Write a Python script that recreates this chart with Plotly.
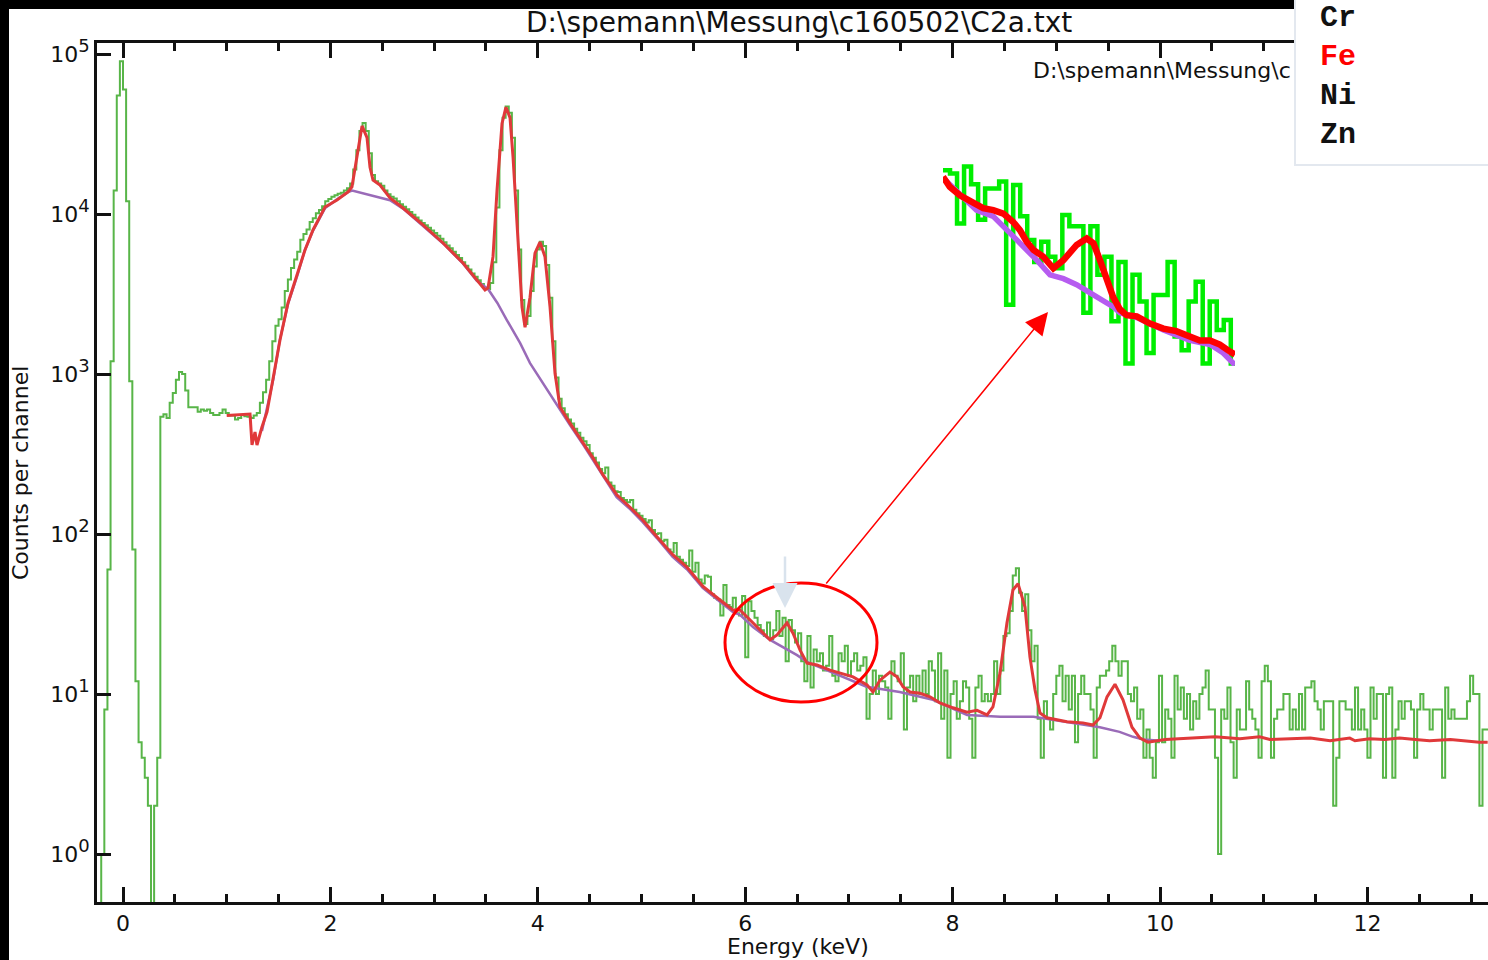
import numpy as np
import plotly.graph_objects as go

# ---------------------------------------------------------------- text
TITLE = "D:\\spemann\\Messung\\c160502\\C2a.txt"
SUBTITLE = "D:\\spemann\\Messung\\c"
X_TITLE = "Energy (keV)"
Y_TITLE = "Counts per channel"
ELEMENTS = ["Cr", "Fe", "Ni", "Zn"]
ELEMENT_COLORS = ["#111111", "#ff0000", "#111111", "#111111"]
Y_TICK_EXPONENTS = [0, 1, 2, 3, 4, 5]
X_TICKS = [0, 2, 4, 6, 8, 10, 12]

# ---------------------------------------------------------------- measured spectrum
CHANNEL_WIDTH = 0.03  # keV per channel

# counts per channel, in blocks that start at the given energy (keV); 0.1 marks an empty channel
counts_noise_peak = [0.1, 1, 8, 60, 1200, 14000, 55000, 90000, 60000, 12000, 900, 80, 12, 5, 4, 3,
                     2, 0.1, 2, 4, 540, 560]
counts_low = [530, 660, 760, 920, 1030, 1000, 790, 620, 620, 620, 580, 600, 590, 600, 570, 555, 555,
              570, 600, 570, 550, 550, 520, 530, 555, 545, 540, 530, 550, 570, 660, 770, 920, 1200,
              1600, 2000, 2200, 2600, 3300, 3900, 4600, 5200, 5800, 6900, 7500, 8000, 8900, 9400,
              10100, 10600, 11200, 12000, 12400, 12800, 13100, 13400, 13600, 14000, 14500, 15500,
              19000, 25000, 33000, 37000, 33000, 24000, 17500, 16000, 15500, 15000, 14000, 13300,
              12800, 12500, 12000, 11500, 11100, 10700, 10300, 9900, 9500, 9100, 8800, 8500, 8200,
              7900, 7600, 7300, 7000, 6650, 6350, 6100, 5800, 5550, 5300, 5000, 4750, 4500, 4250,
              4050, 3850, 3650, 3450, 3400, 3700, 5000, 11000, 25000, 40000, 47000, 43000, 30000,
              14000, 6000, 2900, 2050, 2300, 3300, 4700, 6000, 6700, 6300, 4800, 3000, 1600, 950,
              700, 610, 560, 520, 490, 455, 430, 400, 380]
counts_tail = [360, 320, 300, 280, 255, 240, 260, 210, 200, 185, 183, 168, 163, 158, 163, 142, 135,
               130, 124, 118, 122, 106, 100, 101, 90, 92, 80, 77, 88, 72, 69, 66, 63, 79, 58, 66, 52,
               49, 55, 54, 42, 40, 39, 31, 48, 36, 35, 40, 32, 31, 41, 17]
counts_mid = [38, 33, 30, 27, 25, 23, 28, 22, 25, 33, 23, 30, 16, 29, 25, 21, 24, 16, 12, 23, 11, 19,
              16, 18, 14, 15, 23, 13, 12, 18, 16, 20, 13, 16, 18, 14, 15, 17, 7, 10, 14, 10, 13, 12,
              11, 7, 16, 13, 12, 18, 6, 11, 13, 9, 13, 10, 14, 10, 16, 14, 9, 18, 7, 14, 4, 10, 12,
              7, 9, 12, 11, 7, 4, 11, 13, 9, 10, 9, 10, 16, 10, 14, 23, 24, 33, 55, 61, 43, 33, 42,
              25, 16, 20, 7, 4, 9, 7, 6, 10, 13, 15, 9, 13, 8, 13, 5, 10, 13, 10, 10, 8, 4, 11, 13,
              13, 14, 16, 20, 16, 13, 16, 16]
counts_high = [10, 9, 11, 7, 8, 4, 6, 4, 3, 5, 13, 5, 8, 7, 4, 13, 8, 11, 7, 10, 6, 9, 7, 10, 11, 14,
               8, 8, 4, 1, 8, 7, 11, 5, 3, 8, 6, 6, 12, 8, 7, 6, 4, 12, 15, 12, 4, 7, 8, 8, 10, 10,
               6, 8, 6, 10, 6, 11, 11, 12, 9, 8, 6, 9, 9, 9, 2, 4, 9, 9, 8, 8, 6, 11, 6, 8, 6, 4, 11,
               7, 10, 10, 3, 10, 11, 3, 6, 9, 7, 9, 9, 8, 4, 8, 10, 8, 8, 6, 8, 8, 8, 3, 11, 7, 8, 7,
               7, 7, 7, 9, 13, 10, 10, 2, 6, 6]
block_starts = [-0.24, 0.42, 4.47, 6.03, 9.69]
blocks = [counts_noise_peak, counts_low, counts_tail, counts_mid, counts_high]

# fitted spectrum (peaks + background)
fit_energy = [1.00, 1.18, 1.225, 1.244, 1.273, 1.292, 1.34, 1.389, 1.447, 1.514,
              1.591, 1.678, 1.755, 1.832, 1.948, 2.064, 2.17, 2.208, 2.256, 2.305,
              2.353, 2.382, 2.411, 2.478, 2.575, 2.70, 2.893, 3.086, 3.279, 3.414,
              3.491, 3.52, 3.568, 3.607, 3.655, 3.693, 3.732, 3.761, 3.799, 3.848,
              3.877, 3.925, 3.973, 4.021, 4.069, 4.118, 4.166, 4.214, 4.31, 4.436,
              4.532, 4.629, 4.764, 4.889, 5.014, 5.149, 5.304, 5.439, 5.593, 5.757,
              5.882, 5.95, 6.075, 6.143, 6.239, 6.307, 6.403, 6.461, 6.529, 6.596,
              6.692, 6.818, 6.914, 7.04, 7.175, 7.232, 7.30, 7.396, 7.464, 7.522,
              7.589, 7.686, 7.782, 7.878, 8.004, 8.139, 8.235, 8.332, 8.389, 8.457,
              8.524, 8.582, 8.631, 8.698, 8.746, 8.795, 8.843, 8.91, 9.103, 9.257,
              9.354, 9.421, 9.489, 9.566, 9.643, 9.73, 9.807, 9.884, 10.05, 10.19,
              10.39, 10.53, 10.77, 10.96, 11.06, 11.25, 11.45, 11.64, 11.83, 11.88,
              12.02, 12.17, 12.31, 12.46, 12.60, 12.80, 12.94, 13.08, 13.16]
fit_counts = [550, 562, 562, 360, 434, 360, 466, 579, 955, 1631,
              2778, 4170, 5955, 7943, 11060, 12235, 13750, 14800, 22780, 35500,
              30000, 19600, 16310, 15180, 12600, 10900, 8540, 6590, 4940, 3870,
              3350, 3450, 5410, 14150, 36800, 46500, 40000, 22780, 8810, 2620,
              1960, 3020, 5700, 6680, 5410, 2620, 1010, 622, 493, 370,
              299, 234, 175, 147, 122, 96, 74, 62, 47, 38.7,
              33.5, 33.5, 27.8, 25, 21.8, 23.4, 27.8, 24, 18.8, 15.6,
              15.2, 14.1, 13.5, 12.8, 11.4, 10.3, 12.2, 13.7, 12.8, 11.1,
              10.3, 10.1, 9.6, 8.8, 8.2, 7.7, 7.9, 7.4, 8.3, 13.5,
              27.8, 44.7, 49, 35, 17, 10.6, 7.6, 7.1, 6.7, 6.6,
              6.4, 7.1, 9.6, 11.5, 9.2, 6.2, 5.3, 5.0, 5.2, 5.25,
              5.3, 5.4, 5.25, 5.4, 5.2, 5.25, 5.3, 5.1, 5.3, 5.1,
              5.25, 5.2, 5.3, 5.2, 5.1, 5.2, 5.1, 5.0, 5.0]

# continuum background
bg_energy = [1.34, 1.45, 1.51, 1.59, 1.68, 1.75, 1.83, 1.95, 2.06, 2.17,
             2.21, 2.31, 2.45, 2.575, 2.70, 2.89, 3.09, 3.28, 3.41, 3.52,
             3.61, 3.70, 3.83, 3.925, 4.09, 4.21, 4.31, 4.44, 4.53, 4.63,
             4.76, 4.89, 5.01, 5.15, 5.30, 5.44, 5.59, 5.76, 5.88, 5.95,
             6.075, 6.24, 6.365, 6.50, 6.60, 6.91, 7.17, 7.49, 7.81, 8.14,
             8.46, 8.78, 9.10, 9.42, 9.61, 9.74, 9.84, 10.0]
bg_counts = [440, 930, 1600, 2720, 4100, 5850, 7800, 10900, 12300, 13700,
             14000, 13500, 12800, 12200, 10800, 8450, 6520, 4890, 3830, 3400,
             2780, 2180, 1560, 1170, 794, 596, 480, 360, 292, 228,
             170, 143, 119, 94, 72, 60, 46, 37.5, 32.6, 31.2,
             26.2, 21.8, 19.7, 17.5, 15.8, 13.1, 11.1, 10.3, 9.2, 7.4,
             7.2, 7.2, 6.7, 6.2, 5.8, 5.4, 5.2, 5.1]

# magnified Fe K region
zoom_start = 5.96
zoom_width = 0.025
zoom_counts = [34.3, 33.7, 25.8, 35, 31.8, 26.3, 31.1, 31.1, 32.3, 16.7, 31.7, 26.8, 23.6, 21.0,
               23.4, 21.6, 20.3, 27.0, 25.4, 25.4, 16.0, 25.4, 19.6, 21.6, 15.3, 21.0, 12.2, 19.6,
               17.0, 12.9, 17.6, 17.6, 21.0, 14.1, 13.1, 17.0, 18.9, 12.2, 17.0, 14.6, 15.4, 12.2]
zoom_fit_energy = [5.96, 5.984, 6.02, 6.067, 6.103, 6.139, 6.175, 6.21, 6.234, 6.258, 6.282, 6.317,
                   6.353, 6.389, 6.436, 6.472, 6.496, 6.519, 6.543, 6.566, 6.590, 6.614, 6.650,
                   6.697, 6.745, 6.791, 6.839, 6.875, 6.911, 6.946, 6.982, 7.0]
zoom_fit_counts = [33.1, 31.4, 30.0, 29.0, 28.0, 27.7, 27.2, 26.0, 24.9, 23.4, 22.4, 21.6, 20.3,
                   21.2, 23.0, 23.8, 23.2, 21.2, 19.1, 17.4, 16.3, 15.8, 15.7, 15.1, 14.7, 14.5,
                   14.1, 13.8, 13.8, 13.5, 13.0, 12.8]
zoom_bg_energy = [5.96, 6.079, 6.139, 6.175, 6.21, 6.246, 6.294, 6.341, 6.389, 6.436, 6.484, 6.531,
                  6.567, 6.590, 6.650, 6.745, 6.839, 6.911, 6.958, 7.0]
zoom_bg_counts = [32.9, 27.7, 26.8, 25.4, 24.3, 22.8, 21.2, 19.6, 19.2, 18.6, 17.8, 17.1, 16.5,
                  16.0, 15.6, 14.6, 13.8, 13.5, 12.9, 12.1]


def histogram(starts, count_blocks, width):
    e, c = [], []
    for start, vals in zip(starts, count_blocks):
        e.extend((start + width * np.arange(len(vals))).tolist())
        c.extend(vals)
    e.append(e[-1] + width)
    c.append(c[-1])
    return e, c


spec_e, spec_c = histogram(block_starts, blocks, CHANNEL_WIDTH)
zoom_e, zoom_c = histogram([zoom_start], [zoom_counts], zoom_width)

# ---------------------------------------------------------------- page geometry (px)
W, H = 1488, 960
L, R, T, B = 97, 0, 43, 58
PW, PH = W - L - R, H - T - B


def px(x):
    return (x - L) / PW


def py(y):
    return (H - B - y) / PH


# ---------------------------------------------------------------- figure
fig = go.Figure()
fig.add_trace(go.Scatter(x=spec_e, y=spec_c, mode="lines", line=dict(color="#58b548", width=2, shape="hv"),
                         hoverinfo="skip"))
fig.add_trace(go.Scatter(x=bg_energy, y=bg_counts, mode="lines", line=dict(color="#9a6bb8", width=2.5),
                         hoverinfo="skip"))
fig.add_trace(go.Scatter(x=fit_energy, y=fit_counts, mode="lines", line=dict(color="#e0393a", width=3),
                         hoverinfo="skip"))

# magnified view
fig.add_trace(go.Scatter(x=zoom_e, y=zoom_c, mode="lines", xaxis="x2", yaxis="y2",
                         line=dict(color="#00ee00", width=4.5, shape="hv"), hoverinfo="skip"))
fig.add_trace(go.Scatter(x=zoom_bg_energy, y=zoom_bg_counts, mode="lines", xaxis="x2", yaxis="y2",
                         line=dict(color="#b65cf0", width=5.5), hoverinfo="skip"))
fig.add_trace(go.Scatter(x=zoom_fit_energy, y=zoom_fit_counts, mode="lines", xaxis="x2", yaxis="y2",
                         line=dict(color="#ff0000", width=6.5), hoverinfo="skip"))

tick_font = dict(family="DejaVu Sans", size=22, color="#111111")
y_ticktext = ["10<sup><span style='font-size:18px'>%d</span></sup>" % p for p in Y_TICK_EXPONENTS]

fig.update_layout(
    width=W, height=H,
    margin=dict(l=L, r=R, t=T, b=B, pad=0),
    paper_bgcolor="white", plot_bgcolor="white",
    showlegend=False,
    xaxis=dict(range=[(L - 123) / 103.7, (W - 123) / 103.7],
               tickmode="array", tickvals=X_TICKS, ticktext=[str(v) for v in X_TICKS],
               ticks="inside", ticklen=15, tickwidth=2.5, tickcolor="#111111",
               minor=dict(dtick=0.5, tick0=0, ticks="inside", ticklen=8, tickwidth=2.5,
                          tickcolor="#111111", showgrid=False),
               showline=True, linewidth=3, linecolor="#111111", mirror="allticks",
               showgrid=False, zeroline=False, tickfont=tick_font),
    yaxis=dict(type="log", range=[(854 - 902) / 160, (854 - 43) / 160],
               tickmode="array", tickvals=[10 ** p for p in Y_TICK_EXPONENTS], ticktext=y_ticktext,
               ticks="inside", ticklen=14, tickwidth=2.5, tickcolor="#111111",
               showline=True, linewidth=3, linecolor="#111111",
               showgrid=False, zeroline=False, tickfont=tick_font),
    xaxis2=dict(domain=[px(943), px(1235)], range=[5.96, 7.0], anchor="y2", visible=False),
    yaxis2=dict(domain=[py(366), py(163)], type="log", range=[1.0805, 1.552], anchor="x2", visible=False),
)

shapes = [
    # frame strips
    dict(type="rect", xref="paper", yref="paper", x0=px(0), x1=px(9), y0=py(H), y1=py(0),
         fillcolor="black", line=dict(width=0), layer="above"),
    dict(type="rect", xref="paper", yref="paper", x0=px(0), x1=px(1295), y0=py(9), y1=py(0),
         fillcolor="black", line=dict(width=0), layer="above"),
    # element list box
    dict(type="rect", xref="paper", yref="paper", x0=px(1295), x1=px(W + 4), y0=py(165), y1=py(-4),
         fillcolor="white", line=dict(color="#e3e8ef", width=2), layer="above"),
    # highlighted Fe region
    dict(type="circle", xref="paper", yref="paper", x0=px(725), x1=px(877), y0=py(702), y1=py(583),
         line=dict(color="#ff0000", width=3)),
]
fig.update_layout(shapes=shapes)

ann = [
    dict(text=TITLE, x=px(799), y=py(23), xref="paper", yref="paper", showarrow=False,
         font=dict(family="DejaVu Sans", size=28, color="#111111"), xanchor="center", yanchor="middle"),
    dict(text=SUBTITLE, x=px(1031), y=py(70), xref="paper", yref="paper", showarrow=False,
         font=dict(family="DejaVu Sans", size=22, color="#111111"), xanchor="left", yanchor="middle"),
    dict(text=X_TITLE, x=px(798), y=py(946), xref="paper", yref="paper", showarrow=False,
         font=dict(family="DejaVu Sans", size=22, color="#111111"), xanchor="center", yanchor="middle"),
    dict(text=Y_TITLE, x=px(20), y=py(473), xref="paper", yref="paper", showarrow=False, textangle=-90,
         font=dict(family="DejaVu Sans", size=22, color="#111111"), xanchor="center", yanchor="middle"),
    # pointer from the circled region to the magnified view
    dict(text="", x=px(1048), y=py(312), xref="paper", yref="paper", showarrow=True,
         ax=825 - 1048, ay=585 - 312, arrowcolor="#ff0000", arrowwidth=1.5, arrowhead=2, arrowsize=3),
    # Fe K alpha marker
    dict(text="", x=px(785), y=py(608), xref="paper", yref="paper", showarrow=True,
         ax=0, ay=-53, arrowcolor="#d9e3ed", arrowwidth=2.5, arrowhead=2, arrowsize=2),
]
for k, (el, col) in enumerate(zip(ELEMENTS, ELEMENT_COLORS)):
    ann.append(dict(text="<b>%s</b>" % el, x=px(1318), y=py(18 + 39 * k), xref="paper", yref="paper",
                    showarrow=False, xanchor="left", yanchor="middle",
                    font=dict(family="Liberation Mono", size=30, color=col)))
fig.update_layout(annotations=ann)

fig.write_html("out.html")
